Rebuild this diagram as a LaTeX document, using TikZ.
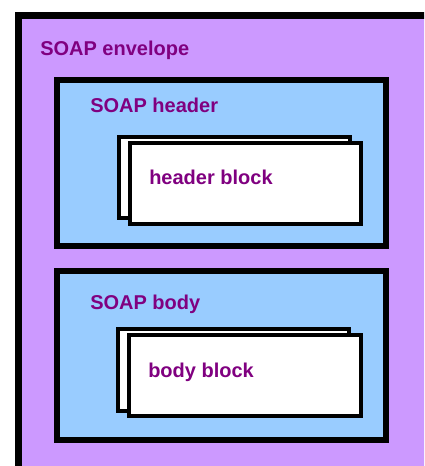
\documentclass[tikz,border=0pt]{standalone}
\usepackage{fontspec}
\setmainfont{Liberation Sans}
\usepackage{xcolor}
\usepackage{tikz}
\usetikzlibrary{positioning}

\definecolor{envfill}{HTML}{CC99FF}
\definecolor{boxfill}{HTML}{99CCFF}
\definecolor{labelcol}{HTML}{800080}

\tikzset{
  envbox/.style={draw=black, line width=5.25pt, fill=envfill},
  partbox/.style={draw=black, line width=4.5pt, fill=boxfill},
  blockbox/.style={draw=black, line width=3pt, fill=white},
  tag/.style={text=labelcol, font=\bfseries\fontsize{15}{18}\selectfont, inner sep=0pt, anchor=base west}
}

\begin{document}
\begin{tikzpicture}[x=0.75pt, y=-0.75pt]
\useasboundingbox (0,0) rectangle (424,466);
\clip (0,0) rectangle (424,466);

% envelope
\draw[envbox] (18.5,15.5) rectangle (428,475);
\node[tag] (envlabel) at (40,56) {SOAP envelope};

% header part
\draw[partbox] (57,80) rectangle (386,246);
\node[tag] (hdrlabel) at (90,113) {SOAP header};
\draw[blockbox] (119,137) rectangle (350,218);
\draw[blockbox] (130,143) rectangle (361,224);
\node[tag] (hdrblock) at (149,185) {header block};

% body part
\draw[partbox] (57,271) rectangle (386,440);
\node[tag] (bodylabel) at (90,309) {SOAP body};
\draw[blockbox] (118,329) rectangle (349,411);
\draw[blockbox] (129,335) rectangle (361,416);
\node[tag] (bodyblock) at (148,377) {body block};
\end{tikzpicture}
\end{document}
